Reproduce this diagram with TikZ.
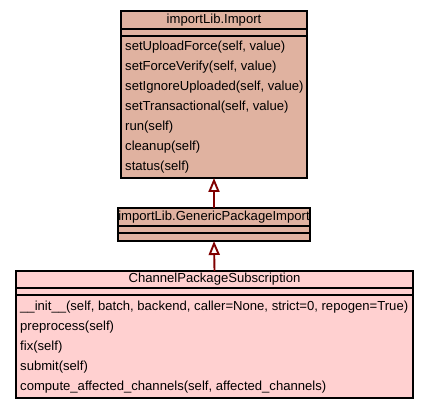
\documentclass[tikz,border=0pt]{standalone}
\usepackage{fontspec}
\setmainfont{Liberation Sans}
\usetikzlibrary{arrows.meta}
\definecolor{topfill}{RGB}{224,178,160}
\definecolor{botfill}{RGB}{255,208,208}
\definecolor{arrowred}{RGB}{128,0,0}
\tikzset{
  classbox/.style={draw=black, line width=1.2pt, anchor=north west, inner sep=0pt, outer sep=0pt},
  sepline/.style={draw=black, line width=1.2pt},
  member/.style={anchor=west, inner sep=0pt, text height=9.5pt, text depth=2.7pt, font=\fontsize{13.1}{15}\selectfont},
  ctitle/.style={anchor=center, inner sep=0pt, text height=9.5pt, text depth=2.7pt, font=\fontsize{13.1}{15}\selectfont},
  inherit/.style={draw=arrowred, line width=1.9pt, -{Triangle[open, length=14pt, width=11pt]}},
}
\begin{document}
\begin{tikzpicture}[x=1pt,y=-1pt]
\useasboundingbox (0,0) rectangle (429,409);
% top class
\node[classbox, fill=topfill, minimum width=186pt, minimum height=167pt] (imp) at (121,11) {};
\draw[sepline] (121,29) -- (307,29);
\draw[sepline] (121,36) -- (307,36);
\node[ctitle] (impt) at (214,20) {importLib.Import};
\node[member] (m1) at (125,47) {setUploadForce(self, value)};
\node[member] (m2) at (125,67) {setForceVerify(self, value)};
\node[member] (m3) at (125,87) {setIgnoreUploaded(self, value)};
\node[member] (m4) at (125,107) {setTransactional(self, value)};
\node[member] (m5) at (125,127) {run(self)};
\node[member] (m6) at (125,147) {cleanup(self)};
\node[member] (m7) at (125,167) {status(self)};
% middle class
\node[classbox, fill=topfill, minimum width=192pt, minimum height=33pt] (gpi) at (118,208) {};
\draw[sepline] (118,226) -- (310,226);
\draw[sepline] (118,233) -- (310,233);
\node[ctitle] (gpit) at (214,217) {importLib.GenericPackageImport};
% bottom class
\node[classbox, fill=botfill, minimum width=397pt, minimum height=127pt] (cps) at (16,271) {};
\draw[sepline] (16,288) -- (413,288);
\draw[sepline] (16,295) -- (413,295);
\node[ctitle] (cpst) at (214.5,279) {ChannelPackageSubscription};
\node[member] (c1) at (20,307) {\_\_init\_\_(self, batch, backend, caller=None, strict=0, repogen=True)};
\node[member] (c2) at (20,327) {preprocess(self)};
\node[member] (c3) at (20,347) {fix(self)};
\node[member] (c4) at (20,367) {submit(self)};
\node[member] (c5) at (20,387) {compute\_affected\_channels(self, affected\_channels)};
% inheritance
\draw[inherit] (gpi.north) -- (imp.south);
\draw[inherit] (cps.north) -- (gpi.south);
\end{tikzpicture}
\end{document}
